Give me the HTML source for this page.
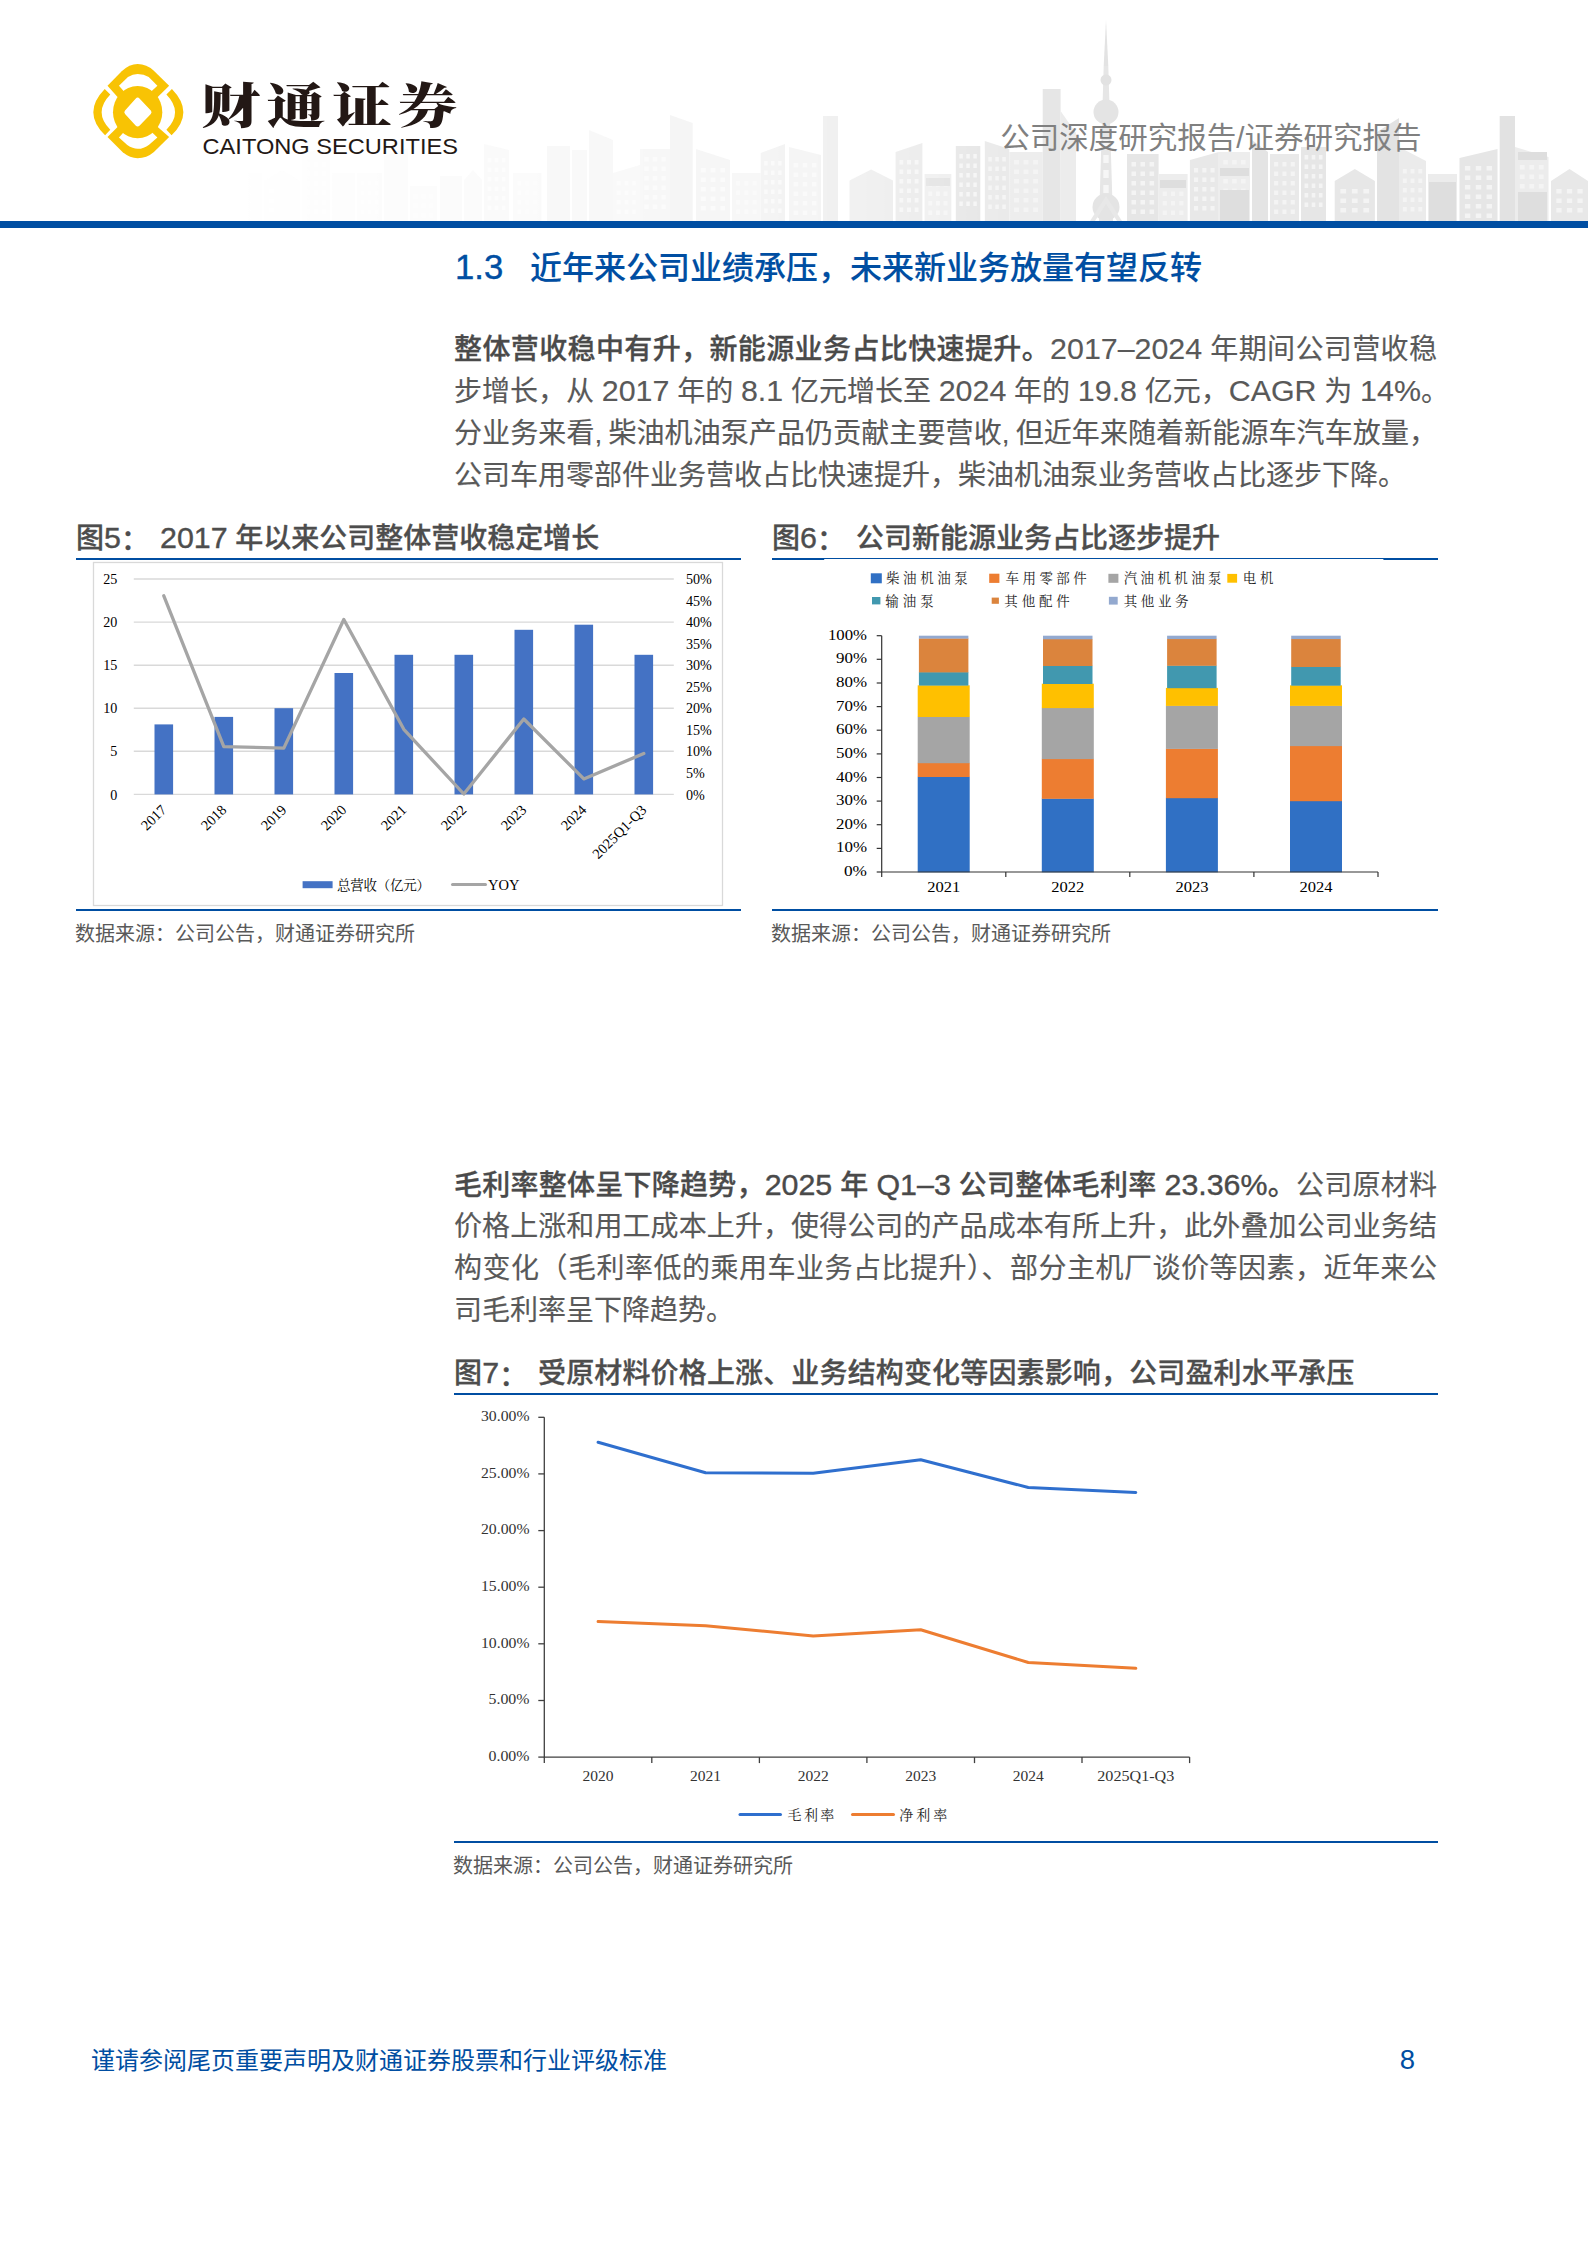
<!DOCTYPE html>
<html lang="zh-CN"><head><meta charset="utf-8"><title>财通证券 研究报告</title>
<style>
html,body{margin:0;padding:0;background:#fff;}
body{width:1588px;height:2245px;position:relative;overflow:hidden;font-family:"Liberation Sans","Noto Sans CJK SC",sans-serif;color:#595959;}
.abs{position:absolute;white-space:nowrap;}
.ln{position:absolute;left:454px;width:983px;height:42px;line-height:42px;font-size:28px;white-space:nowrap;text-align:justify;text-align-last:justify;color:#595959;-webkit-text-stroke:0.15px #595959;}
.ln.last{text-align:left;text-align-last:left;}
.la{font-size:1.085em;line-height:1px;}
.ft .la,.ln b .la{-webkit-text-stroke:0.4px currentColor;font-weight:400;}
.ttl{-webkit-text-stroke:0.12px currentColor;}
.ttl .la{-webkit-text-stroke:0.4px currentColor;font-weight:400;}
.ln b{font-weight:500;color:#4a4a4a;-webkit-text-stroke:0.3px #4a4a4a;}
.ft{position:absolute;height:40px;line-height:40px;font-size:28px;font-weight:500;-webkit-text-stroke:0.3px #4d4d4d;color:#4d4d4d;white-space:nowrap;}
.ft i{font-style:normal;display:inline-block;width:84px;}
.rule{position:absolute;height:2.1px;background:#004ea2;}
.src{position:absolute;font-size:20px;line-height:30px;height:30px;color:#595959;white-space:nowrap;}
svg{position:absolute;overflow:visible;}
svg text{font-family:"Liberation Serif","Noto Serif CJK SC",serif;}
</style></head>
<body>
<svg width="1588" height="2245" style="left:0;top:0" viewBox="0 0 1588 2245">
<defs><linearGradient id="fade" x1="210" x2="1020" y1="0" y2="0" gradientUnits="userSpaceOnUse"><stop offset="0" stop-color="#fff" stop-opacity="0"/><stop offset="0.24" stop-color="#fff" stop-opacity="0.13"/><stop offset="0.5" stop-color="#fff" stop-opacity="0.3"/><stop offset="0.75" stop-color="#fff" stop-opacity="0.5"/><stop offset="0.92" stop-color="#fff" stop-opacity="0.8"/><stop offset="1" stop-color="#fff" stop-opacity="1"/></linearGradient>
<mask id="mk" maskUnits="userSpaceOnUse" x="0" y="0" width="1588" height="230"><rect x="0" y="0" width="1588" height="230" fill="url(#fade)"/><rect x="1019.5" y="0" width="570" height="230" fill="#fff"/></mask></defs>
<g mask="url(#mk)">
<path d="M849.5 221.5V180.5L871.2 169.5L893.0 180.5V221.5Z" fill="#e7e7e7"/>
<path d="M895.6 221.5V152.0L922.4 143.0V221.5Z" fill="#e6e6e6"/>
<path d="M924.6 221.5V174.0L951.3 174.0V221.5Z" fill="#ececec"/>
<path d="M955.8 221.5V146.0L980.3 146.0V221.5Z" fill="#e4e4e4"/>
<path d="M984.8 221.5V141.0L1009.3 149.0V221.5Z" fill="#e9e9e9"/>
<path d="M1009.3 221.5V152.0L1042.7 152.0V221.5Z" fill="#ededed"/>
<path d="M1042.7 221.5V89.0L1060.6 89.0V221.5Z" fill="#e6e6e6"/>
<path d="M1060.6 221.5V111.0L1076.0 133.0V221.5Z" fill="#ececec"/>
<path d="M1127.0 221.5V154.0L1158.6 154.0V221.5Z" fill="#e6e6e6"/>
<path d="M1158.6 221.5V174.0L1187.6 174.0V221.5Z" fill="#ededed"/>
<path d="M1189.9 221.5V160.0L1218.8 152.0V221.5Z" fill="#e8e8e8"/>
<path d="M1218.8 221.5V152.0L1250.0 152.0V221.5Z" fill="#ededed"/>
<path d="M1252.0 221.5V140.0L1268.0 152.0V221.5Z" fill="#e4e4e4"/>
<path d="M1270.0 221.5V154.0L1299.0 154.0V221.5Z" fill="#e9e9e9"/>
<path d="M1301.0 221.5V147.0L1326.0 147.0V221.5Z" fill="#e6e6e6"/>
<path d="M1334.7 221.5V181.0L1354.8 169.0L1374.9 181.0V221.5Z" fill="#e7e7e7"/>
<path d="M1377.0 221.5V132.0L1399.0 118.0V221.5Z" fill="#e3e3e3"/>
<path d="M1399.0 221.5V147.0L1426.0 161.0V221.5Z" fill="#ebebeb"/>
<path d="M1428.0 221.5V174.0L1457.0 174.0V221.5Z" fill="#ececec"/>
<path d="M1459.5 221.5V158.0L1497.5 149.0V221.5Z" fill="#e6e6e6"/>
<path d="M1499.7 221.5V116.0L1515.0 116.0V221.5Z" fill="#e2e2e2"/>
<path d="M1515.0 221.5V147.0L1548.5 157.0V221.5Z" fill="#ececec"/>
<path d="M1551.0 221.5V181.0L1569.5 169.0L1588.0 181.0V221.5Z" fill="#e8e8e8"/>
<rect x="899.4" y="160.0" width="3.8" height="4.5" fill="#f4f4f4"/>
<rect x="907.1" y="160.0" width="3.8" height="4.5" fill="#f4f4f4"/>
<rect x="914.7" y="160.0" width="3.8" height="4.5" fill="#f4f4f4"/>
<rect x="899.4" y="169.5" width="3.8" height="4.5" fill="#f4f4f4"/>
<rect x="907.1" y="169.5" width="3.8" height="4.5" fill="#f4f4f4"/>
<rect x="914.7" y="169.5" width="3.8" height="4.5" fill="#f4f4f4"/>
<rect x="899.4" y="179.0" width="3.8" height="4.5" fill="#f4f4f4"/>
<rect x="907.1" y="179.0" width="3.8" height="4.5" fill="#f4f4f4"/>
<rect x="914.7" y="179.0" width="3.8" height="4.5" fill="#f4f4f4"/>
<rect x="899.4" y="188.5" width="3.8" height="4.5" fill="#f4f4f4"/>
<rect x="907.1" y="188.5" width="3.8" height="4.5" fill="#f4f4f4"/>
<rect x="914.7" y="188.5" width="3.8" height="4.5" fill="#f4f4f4"/>
<rect x="899.4" y="198.0" width="3.8" height="4.5" fill="#f4f4f4"/>
<rect x="907.1" y="198.0" width="3.8" height="4.5" fill="#f4f4f4"/>
<rect x="914.7" y="198.0" width="3.8" height="4.5" fill="#f4f4f4"/>
<rect x="899.4" y="207.5" width="3.8" height="4.5" fill="#f4f4f4"/>
<rect x="907.1" y="207.5" width="3.8" height="4.5" fill="#f4f4f4"/>
<rect x="914.7" y="207.5" width="3.8" height="4.5" fill="#f4f4f4"/>
<rect x="928.4" y="182.0" width="3.8" height="4.5" fill="#f4f4f4"/>
<rect x="936.0" y="182.0" width="3.8" height="4.5" fill="#f4f4f4"/>
<rect x="943.7" y="182.0" width="3.8" height="4.5" fill="#f4f4f4"/>
<rect x="928.4" y="191.5" width="3.8" height="4.5" fill="#f4f4f4"/>
<rect x="936.0" y="191.5" width="3.8" height="4.5" fill="#f4f4f4"/>
<rect x="943.7" y="191.5" width="3.8" height="4.5" fill="#f4f4f4"/>
<rect x="928.4" y="201.0" width="3.8" height="4.5" fill="#f4f4f4"/>
<rect x="936.0" y="201.0" width="3.8" height="4.5" fill="#f4f4f4"/>
<rect x="943.7" y="201.0" width="3.8" height="4.5" fill="#f4f4f4"/>
<rect x="928.4" y="210.5" width="3.8" height="4.5" fill="#f4f4f4"/>
<rect x="936.0" y="210.5" width="3.8" height="4.5" fill="#f4f4f4"/>
<rect x="943.7" y="210.5" width="3.8" height="4.5" fill="#f4f4f4"/>
<rect x="959.3" y="154.0" width="3.5" height="4.5" fill="#f4f4f4"/>
<rect x="966.3" y="154.0" width="3.5" height="4.5" fill="#f4f4f4"/>
<rect x="973.3" y="154.0" width="3.5" height="4.5" fill="#f4f4f4"/>
<rect x="959.3" y="163.5" width="3.5" height="4.5" fill="#f4f4f4"/>
<rect x="966.3" y="163.5" width="3.5" height="4.5" fill="#f4f4f4"/>
<rect x="973.3" y="163.5" width="3.5" height="4.5" fill="#f4f4f4"/>
<rect x="959.3" y="173.0" width="3.5" height="4.5" fill="#f4f4f4"/>
<rect x="966.3" y="173.0" width="3.5" height="4.5" fill="#f4f4f4"/>
<rect x="973.3" y="173.0" width="3.5" height="4.5" fill="#f4f4f4"/>
<rect x="959.3" y="182.5" width="3.5" height="4.5" fill="#f4f4f4"/>
<rect x="966.3" y="182.5" width="3.5" height="4.5" fill="#f4f4f4"/>
<rect x="973.3" y="182.5" width="3.5" height="4.5" fill="#f4f4f4"/>
<rect x="959.3" y="192.0" width="3.5" height="4.5" fill="#f4f4f4"/>
<rect x="966.3" y="192.0" width="3.5" height="4.5" fill="#f4f4f4"/>
<rect x="973.3" y="192.0" width="3.5" height="4.5" fill="#f4f4f4"/>
<rect x="959.3" y="201.5" width="3.5" height="4.5" fill="#f4f4f4"/>
<rect x="966.3" y="201.5" width="3.5" height="4.5" fill="#f4f4f4"/>
<rect x="973.3" y="201.5" width="3.5" height="4.5" fill="#f4f4f4"/>
<rect x="988.3" y="157.0" width="3.5" height="4.5" fill="#f4f4f4"/>
<rect x="995.3" y="157.0" width="3.5" height="4.5" fill="#f4f4f4"/>
<rect x="1002.3" y="157.0" width="3.5" height="4.5" fill="#f4f4f4"/>
<rect x="988.3" y="166.5" width="3.5" height="4.5" fill="#f4f4f4"/>
<rect x="995.3" y="166.5" width="3.5" height="4.5" fill="#f4f4f4"/>
<rect x="1002.3" y="166.5" width="3.5" height="4.5" fill="#f4f4f4"/>
<rect x="988.3" y="176.0" width="3.5" height="4.5" fill="#f4f4f4"/>
<rect x="995.3" y="176.0" width="3.5" height="4.5" fill="#f4f4f4"/>
<rect x="1002.3" y="176.0" width="3.5" height="4.5" fill="#f4f4f4"/>
<rect x="988.3" y="185.5" width="3.5" height="4.5" fill="#f4f4f4"/>
<rect x="995.3" y="185.5" width="3.5" height="4.5" fill="#f4f4f4"/>
<rect x="1002.3" y="185.5" width="3.5" height="4.5" fill="#f4f4f4"/>
<rect x="988.3" y="195.0" width="3.5" height="4.5" fill="#f4f4f4"/>
<rect x="995.3" y="195.0" width="3.5" height="4.5" fill="#f4f4f4"/>
<rect x="1002.3" y="195.0" width="3.5" height="4.5" fill="#f4f4f4"/>
<rect x="988.3" y="204.5" width="3.5" height="4.5" fill="#f4f4f4"/>
<rect x="995.3" y="204.5" width="3.5" height="4.5" fill="#f4f4f4"/>
<rect x="1002.3" y="204.5" width="3.5" height="4.5" fill="#f4f4f4"/>
<rect x="1014.1" y="160.0" width="4.8" height="4.5" fill="#f4f4f4"/>
<rect x="1023.6" y="160.0" width="4.8" height="4.5" fill="#f4f4f4"/>
<rect x="1033.2" y="160.0" width="4.8" height="4.5" fill="#f4f4f4"/>
<rect x="1014.1" y="169.5" width="4.8" height="4.5" fill="#f4f4f4"/>
<rect x="1023.6" y="169.5" width="4.8" height="4.5" fill="#f4f4f4"/>
<rect x="1033.2" y="169.5" width="4.8" height="4.5" fill="#f4f4f4"/>
<rect x="1014.1" y="179.0" width="4.8" height="4.5" fill="#f4f4f4"/>
<rect x="1023.6" y="179.0" width="4.8" height="4.5" fill="#f4f4f4"/>
<rect x="1033.2" y="179.0" width="4.8" height="4.5" fill="#f4f4f4"/>
<rect x="1014.1" y="188.5" width="4.8" height="4.5" fill="#f4f4f4"/>
<rect x="1023.6" y="188.5" width="4.8" height="4.5" fill="#f4f4f4"/>
<rect x="1033.2" y="188.5" width="4.8" height="4.5" fill="#f4f4f4"/>
<rect x="1014.1" y="198.0" width="4.8" height="4.5" fill="#f4f4f4"/>
<rect x="1023.6" y="198.0" width="4.8" height="4.5" fill="#f4f4f4"/>
<rect x="1033.2" y="198.0" width="4.8" height="4.5" fill="#f4f4f4"/>
<rect x="1014.1" y="207.5" width="4.8" height="4.5" fill="#f4f4f4"/>
<rect x="1023.6" y="207.5" width="4.8" height="4.5" fill="#f4f4f4"/>
<rect x="1033.2" y="207.5" width="4.8" height="4.5" fill="#f4f4f4"/>
<rect x="1131.5" y="162.0" width="4.5" height="4.5" fill="#f4f4f4"/>
<rect x="1140.5" y="162.0" width="4.5" height="4.5" fill="#f4f4f4"/>
<rect x="1149.6" y="162.0" width="4.5" height="4.5" fill="#f4f4f4"/>
<rect x="1131.5" y="171.5" width="4.5" height="4.5" fill="#f4f4f4"/>
<rect x="1140.5" y="171.5" width="4.5" height="4.5" fill="#f4f4f4"/>
<rect x="1149.6" y="171.5" width="4.5" height="4.5" fill="#f4f4f4"/>
<rect x="1131.5" y="181.0" width="4.5" height="4.5" fill="#f4f4f4"/>
<rect x="1140.5" y="181.0" width="4.5" height="4.5" fill="#f4f4f4"/>
<rect x="1149.6" y="181.0" width="4.5" height="4.5" fill="#f4f4f4"/>
<rect x="1131.5" y="190.5" width="4.5" height="4.5" fill="#f4f4f4"/>
<rect x="1140.5" y="190.5" width="4.5" height="4.5" fill="#f4f4f4"/>
<rect x="1149.6" y="190.5" width="4.5" height="4.5" fill="#f4f4f4"/>
<rect x="1131.5" y="200.0" width="4.5" height="4.5" fill="#f4f4f4"/>
<rect x="1140.5" y="200.0" width="4.5" height="4.5" fill="#f4f4f4"/>
<rect x="1149.6" y="200.0" width="4.5" height="4.5" fill="#f4f4f4"/>
<rect x="1131.5" y="209.5" width="4.5" height="4.5" fill="#f4f4f4"/>
<rect x="1140.5" y="209.5" width="4.5" height="4.5" fill="#f4f4f4"/>
<rect x="1149.6" y="209.5" width="4.5" height="4.5" fill="#f4f4f4"/>
<rect x="1162.7" y="182.0" width="4.1" height="4.5" fill="#f4f4f4"/>
<rect x="1171.0" y="182.0" width="4.1" height="4.5" fill="#f4f4f4"/>
<rect x="1179.3" y="182.0" width="4.1" height="4.5" fill="#f4f4f4"/>
<rect x="1162.7" y="191.5" width="4.1" height="4.5" fill="#f4f4f4"/>
<rect x="1171.0" y="191.5" width="4.1" height="4.5" fill="#f4f4f4"/>
<rect x="1179.3" y="191.5" width="4.1" height="4.5" fill="#f4f4f4"/>
<rect x="1162.7" y="201.0" width="4.1" height="4.5" fill="#f4f4f4"/>
<rect x="1171.0" y="201.0" width="4.1" height="4.5" fill="#f4f4f4"/>
<rect x="1179.3" y="201.0" width="4.1" height="4.5" fill="#f4f4f4"/>
<rect x="1162.7" y="210.5" width="4.1" height="4.5" fill="#f4f4f4"/>
<rect x="1171.0" y="210.5" width="4.1" height="4.5" fill="#f4f4f4"/>
<rect x="1179.3" y="210.5" width="4.1" height="4.5" fill="#f4f4f4"/>
<rect x="1194.0" y="168.0" width="4.1" height="4.5" fill="#f4f4f4"/>
<rect x="1202.3" y="168.0" width="4.1" height="4.5" fill="#f4f4f4"/>
<rect x="1210.5" y="168.0" width="4.1" height="4.5" fill="#f4f4f4"/>
<rect x="1194.0" y="177.5" width="4.1" height="4.5" fill="#f4f4f4"/>
<rect x="1202.3" y="177.5" width="4.1" height="4.5" fill="#f4f4f4"/>
<rect x="1210.5" y="177.5" width="4.1" height="4.5" fill="#f4f4f4"/>
<rect x="1194.0" y="187.0" width="4.1" height="4.5" fill="#f4f4f4"/>
<rect x="1202.3" y="187.0" width="4.1" height="4.5" fill="#f4f4f4"/>
<rect x="1210.5" y="187.0" width="4.1" height="4.5" fill="#f4f4f4"/>
<rect x="1194.0" y="196.5" width="4.1" height="4.5" fill="#f4f4f4"/>
<rect x="1202.3" y="196.5" width="4.1" height="4.5" fill="#f4f4f4"/>
<rect x="1210.5" y="196.5" width="4.1" height="4.5" fill="#f4f4f4"/>
<rect x="1194.0" y="206.0" width="4.1" height="4.5" fill="#f4f4f4"/>
<rect x="1202.3" y="206.0" width="4.1" height="4.5" fill="#f4f4f4"/>
<rect x="1210.5" y="206.0" width="4.1" height="4.5" fill="#f4f4f4"/>
<rect x="1223.3" y="160.0" width="4.5" height="4.5" fill="#f4f4f4"/>
<rect x="1232.2" y="160.0" width="4.5" height="4.5" fill="#f4f4f4"/>
<rect x="1241.1" y="160.0" width="4.5" height="4.5" fill="#f4f4f4"/>
<rect x="1223.3" y="169.5" width="4.5" height="4.5" fill="#f4f4f4"/>
<rect x="1232.2" y="169.5" width="4.5" height="4.5" fill="#f4f4f4"/>
<rect x="1241.1" y="169.5" width="4.5" height="4.5" fill="#f4f4f4"/>
<rect x="1223.3" y="179.0" width="4.5" height="4.5" fill="#f4f4f4"/>
<rect x="1232.2" y="179.0" width="4.5" height="4.5" fill="#f4f4f4"/>
<rect x="1241.1" y="179.0" width="4.5" height="4.5" fill="#f4f4f4"/>
<rect x="1223.3" y="188.5" width="4.5" height="4.5" fill="#f4f4f4"/>
<rect x="1232.2" y="188.5" width="4.5" height="4.5" fill="#f4f4f4"/>
<rect x="1241.1" y="188.5" width="4.5" height="4.5" fill="#f4f4f4"/>
<rect x="1223.3" y="198.0" width="4.5" height="4.5" fill="#f4f4f4"/>
<rect x="1232.2" y="198.0" width="4.5" height="4.5" fill="#f4f4f4"/>
<rect x="1241.1" y="198.0" width="4.5" height="4.5" fill="#f4f4f4"/>
<rect x="1223.3" y="207.5" width="4.5" height="4.5" fill="#f4f4f4"/>
<rect x="1232.2" y="207.5" width="4.5" height="4.5" fill="#f4f4f4"/>
<rect x="1241.1" y="207.5" width="4.5" height="4.5" fill="#f4f4f4"/>
<rect x="1274.1" y="162.0" width="4.1" height="4.5" fill="#f4f4f4"/>
<rect x="1282.4" y="162.0" width="4.1" height="4.5" fill="#f4f4f4"/>
<rect x="1290.7" y="162.0" width="4.1" height="4.5" fill="#f4f4f4"/>
<rect x="1274.1" y="171.5" width="4.1" height="4.5" fill="#f4f4f4"/>
<rect x="1282.4" y="171.5" width="4.1" height="4.5" fill="#f4f4f4"/>
<rect x="1290.7" y="171.5" width="4.1" height="4.5" fill="#f4f4f4"/>
<rect x="1274.1" y="181.0" width="4.1" height="4.5" fill="#f4f4f4"/>
<rect x="1282.4" y="181.0" width="4.1" height="4.5" fill="#f4f4f4"/>
<rect x="1290.7" y="181.0" width="4.1" height="4.5" fill="#f4f4f4"/>
<rect x="1274.1" y="190.5" width="4.1" height="4.5" fill="#f4f4f4"/>
<rect x="1282.4" y="190.5" width="4.1" height="4.5" fill="#f4f4f4"/>
<rect x="1290.7" y="190.5" width="4.1" height="4.5" fill="#f4f4f4"/>
<rect x="1274.1" y="200.0" width="4.1" height="4.5" fill="#f4f4f4"/>
<rect x="1282.4" y="200.0" width="4.1" height="4.5" fill="#f4f4f4"/>
<rect x="1290.7" y="200.0" width="4.1" height="4.5" fill="#f4f4f4"/>
<rect x="1274.1" y="209.5" width="4.1" height="4.5" fill="#f4f4f4"/>
<rect x="1282.4" y="209.5" width="4.1" height="4.5" fill="#f4f4f4"/>
<rect x="1290.7" y="209.5" width="4.1" height="4.5" fill="#f4f4f4"/>
<rect x="1304.6" y="155.0" width="3.6" height="4.5" fill="#f4f4f4"/>
<rect x="1311.7" y="155.0" width="3.6" height="4.5" fill="#f4f4f4"/>
<rect x="1318.9" y="155.0" width="3.6" height="4.5" fill="#f4f4f4"/>
<rect x="1304.6" y="164.5" width="3.6" height="4.5" fill="#f4f4f4"/>
<rect x="1311.7" y="164.5" width="3.6" height="4.5" fill="#f4f4f4"/>
<rect x="1318.9" y="164.5" width="3.6" height="4.5" fill="#f4f4f4"/>
<rect x="1304.6" y="174.0" width="3.6" height="4.5" fill="#f4f4f4"/>
<rect x="1311.7" y="174.0" width="3.6" height="4.5" fill="#f4f4f4"/>
<rect x="1318.9" y="174.0" width="3.6" height="4.5" fill="#f4f4f4"/>
<rect x="1304.6" y="183.5" width="3.6" height="4.5" fill="#f4f4f4"/>
<rect x="1311.7" y="183.5" width="3.6" height="4.5" fill="#f4f4f4"/>
<rect x="1318.9" y="183.5" width="3.6" height="4.5" fill="#f4f4f4"/>
<rect x="1304.6" y="193.0" width="3.6" height="4.5" fill="#f4f4f4"/>
<rect x="1311.7" y="193.0" width="3.6" height="4.5" fill="#f4f4f4"/>
<rect x="1318.9" y="193.0" width="3.6" height="4.5" fill="#f4f4f4"/>
<rect x="1304.6" y="202.5" width="3.6" height="4.5" fill="#f4f4f4"/>
<rect x="1311.7" y="202.5" width="3.6" height="4.5" fill="#f4f4f4"/>
<rect x="1318.9" y="202.5" width="3.6" height="4.5" fill="#f4f4f4"/>
<rect x="1340.4" y="189.0" width="5.7" height="4.5" fill="#f4f4f4"/>
<rect x="1351.9" y="189.0" width="5.7" height="4.5" fill="#f4f4f4"/>
<rect x="1363.4" y="189.0" width="5.7" height="4.5" fill="#f4f4f4"/>
<rect x="1340.4" y="198.5" width="5.7" height="4.5" fill="#f4f4f4"/>
<rect x="1351.9" y="198.5" width="5.7" height="4.5" fill="#f4f4f4"/>
<rect x="1363.4" y="198.5" width="5.7" height="4.5" fill="#f4f4f4"/>
<rect x="1340.4" y="208.0" width="5.7" height="4.5" fill="#f4f4f4"/>
<rect x="1351.9" y="208.0" width="5.7" height="4.5" fill="#f4f4f4"/>
<rect x="1363.4" y="208.0" width="5.7" height="4.5" fill="#f4f4f4"/>
<rect x="1402.9" y="169.0" width="3.9" height="4.5" fill="#f4f4f4"/>
<rect x="1410.6" y="169.0" width="3.9" height="4.5" fill="#f4f4f4"/>
<rect x="1418.3" y="169.0" width="3.9" height="4.5" fill="#f4f4f4"/>
<rect x="1402.9" y="178.5" width="3.9" height="4.5" fill="#f4f4f4"/>
<rect x="1410.6" y="178.5" width="3.9" height="4.5" fill="#f4f4f4"/>
<rect x="1418.3" y="178.5" width="3.9" height="4.5" fill="#f4f4f4"/>
<rect x="1402.9" y="188.0" width="3.9" height="4.5" fill="#f4f4f4"/>
<rect x="1410.6" y="188.0" width="3.9" height="4.5" fill="#f4f4f4"/>
<rect x="1418.3" y="188.0" width="3.9" height="4.5" fill="#f4f4f4"/>
<rect x="1402.9" y="197.5" width="3.9" height="4.5" fill="#f4f4f4"/>
<rect x="1410.6" y="197.5" width="3.9" height="4.5" fill="#f4f4f4"/>
<rect x="1418.3" y="197.5" width="3.9" height="4.5" fill="#f4f4f4"/>
<rect x="1402.9" y="207.0" width="3.9" height="4.5" fill="#f4f4f4"/>
<rect x="1410.6" y="207.0" width="3.9" height="4.5" fill="#f4f4f4"/>
<rect x="1418.3" y="207.0" width="3.9" height="4.5" fill="#f4f4f4"/>
<rect x="1432.1" y="182.0" width="4.1" height="4.5" fill="#f4f4f4"/>
<rect x="1440.4" y="182.0" width="4.1" height="4.5" fill="#f4f4f4"/>
<rect x="1448.7" y="182.0" width="4.1" height="4.5" fill="#f4f4f4"/>
<rect x="1432.1" y="191.5" width="4.1" height="4.5" fill="#f4f4f4"/>
<rect x="1440.4" y="191.5" width="4.1" height="4.5" fill="#f4f4f4"/>
<rect x="1448.7" y="191.5" width="4.1" height="4.5" fill="#f4f4f4"/>
<rect x="1432.1" y="201.0" width="4.1" height="4.5" fill="#f4f4f4"/>
<rect x="1440.4" y="201.0" width="4.1" height="4.5" fill="#f4f4f4"/>
<rect x="1448.7" y="201.0" width="4.1" height="4.5" fill="#f4f4f4"/>
<rect x="1432.1" y="210.5" width="4.1" height="4.5" fill="#f4f4f4"/>
<rect x="1440.4" y="210.5" width="4.1" height="4.5" fill="#f4f4f4"/>
<rect x="1448.7" y="210.5" width="4.1" height="4.5" fill="#f4f4f4"/>
<rect x="1464.9" y="166.0" width="5.4" height="4.5" fill="#f4f4f4"/>
<rect x="1475.8" y="166.0" width="5.4" height="4.5" fill="#f4f4f4"/>
<rect x="1486.6" y="166.0" width="5.4" height="4.5" fill="#f4f4f4"/>
<rect x="1464.9" y="175.5" width="5.4" height="4.5" fill="#f4f4f4"/>
<rect x="1475.8" y="175.5" width="5.4" height="4.5" fill="#f4f4f4"/>
<rect x="1486.6" y="175.5" width="5.4" height="4.5" fill="#f4f4f4"/>
<rect x="1464.9" y="185.0" width="5.4" height="4.5" fill="#f4f4f4"/>
<rect x="1475.8" y="185.0" width="5.4" height="4.5" fill="#f4f4f4"/>
<rect x="1486.6" y="185.0" width="5.4" height="4.5" fill="#f4f4f4"/>
<rect x="1464.9" y="194.5" width="5.4" height="4.5" fill="#f4f4f4"/>
<rect x="1475.8" y="194.5" width="5.4" height="4.5" fill="#f4f4f4"/>
<rect x="1486.6" y="194.5" width="5.4" height="4.5" fill="#f4f4f4"/>
<rect x="1464.9" y="204.0" width="5.4" height="4.5" fill="#f4f4f4"/>
<rect x="1475.8" y="204.0" width="5.4" height="4.5" fill="#f4f4f4"/>
<rect x="1486.6" y="204.0" width="5.4" height="4.5" fill="#f4f4f4"/>
<rect x="1464.9" y="213.5" width="5.4" height="4.5" fill="#f4f4f4"/>
<rect x="1475.8" y="213.5" width="5.4" height="4.5" fill="#f4f4f4"/>
<rect x="1486.6" y="213.5" width="5.4" height="4.5" fill="#f4f4f4"/>
<rect x="1519.8" y="165.0" width="4.8" height="4.5" fill="#f4f4f4"/>
<rect x="1529.4" y="165.0" width="4.8" height="4.5" fill="#f4f4f4"/>
<rect x="1538.9" y="165.0" width="4.8" height="4.5" fill="#f4f4f4"/>
<rect x="1519.8" y="174.5" width="4.8" height="4.5" fill="#f4f4f4"/>
<rect x="1529.4" y="174.5" width="4.8" height="4.5" fill="#f4f4f4"/>
<rect x="1538.9" y="174.5" width="4.8" height="4.5" fill="#f4f4f4"/>
<rect x="1519.8" y="184.0" width="4.8" height="4.5" fill="#f4f4f4"/>
<rect x="1529.4" y="184.0" width="4.8" height="4.5" fill="#f4f4f4"/>
<rect x="1538.9" y="184.0" width="4.8" height="4.5" fill="#f4f4f4"/>
<rect x="1519.8" y="193.5" width="4.8" height="4.5" fill="#f4f4f4"/>
<rect x="1529.4" y="193.5" width="4.8" height="4.5" fill="#f4f4f4"/>
<rect x="1538.9" y="193.5" width="4.8" height="4.5" fill="#f4f4f4"/>
<rect x="1519.8" y="203.0" width="4.8" height="4.5" fill="#f4f4f4"/>
<rect x="1529.4" y="203.0" width="4.8" height="4.5" fill="#f4f4f4"/>
<rect x="1538.9" y="203.0" width="4.8" height="4.5" fill="#f4f4f4"/>
<rect x="1519.8" y="212.5" width="4.8" height="4.5" fill="#f4f4f4"/>
<rect x="1529.4" y="212.5" width="4.8" height="4.5" fill="#f4f4f4"/>
<rect x="1538.9" y="212.5" width="4.8" height="4.5" fill="#f4f4f4"/>
<rect x="1556.3" y="189.0" width="5.3" height="4.5" fill="#f4f4f4"/>
<rect x="1566.9" y="189.0" width="5.3" height="4.5" fill="#f4f4f4"/>
<rect x="1577.4" y="189.0" width="5.3" height="4.5" fill="#f4f4f4"/>
<rect x="1556.3" y="198.5" width="5.3" height="4.5" fill="#f4f4f4"/>
<rect x="1566.9" y="198.5" width="5.3" height="4.5" fill="#f4f4f4"/>
<rect x="1577.4" y="198.5" width="5.3" height="4.5" fill="#f4f4f4"/>
<rect x="1556.3" y="208.0" width="5.3" height="4.5" fill="#f4f4f4"/>
<rect x="1566.9" y="208.0" width="5.3" height="4.5" fill="#f4f4f4"/>
<rect x="1577.4" y="208.0" width="5.3" height="4.5" fill="#f4f4f4"/>
<rect x="1220.0" y="168.0" width="29.0" height="8.0" fill="#dedede"/>
<rect x="1220.0" y="190.0" width="29.0" height="31.0" fill="#dedede"/>
<rect x="1429.0" y="182.0" width="27.0" height="39.0" fill="#dedede"/>
<rect x="1160.0" y="180.0" width="26.0" height="8.0" fill="#dedede"/>
<rect x="926.0" y="178.0" width="24.0" height="8.0" fill="#dedede"/>
<rect x="1518.0" y="152.0" width="29.0" height="8.0" fill="#dedede"/>
<rect x="1518.0" y="192.0" width="29.0" height="29.0" fill="#dedede"/>
<path d="M1106 20L1108.3 66H1103.7Z" fill="#e3e3e3"/>
<path d="M1103.7 66H1108.3L1113 221H1099Z" fill="#e6e6e6"/>
<circle cx="1106" cy="80" r="5.5" fill="#e2e2e2"/>
<circle cx="1106" cy="112" r="12.5" fill="#e4e4e4"/>
<circle cx="1106" cy="207" r="13.5" fill="#e4e4e4"/>
<path d="M1106 196L1090 221H1095L1106 204L1117 221H1122Z" fill="#e8e8e8"/>
<rect x="1103.3" y="140" width="5.4" height="8" fill="#f6f6f6"/>
<rect x="1103.3" y="155" width="5.4" height="8" fill="#f6f6f6"/>
<rect x="1103.3" y="170" width="5.4" height="8" fill="#f6f6f6"/>
<rect x="1103.3" y="185" width="5.4" height="8" fill="#f6f6f6"/>
<path d="M214.0 221.5V150.0L236.0 158.0V221.5Z" fill="#e8e8e8"/>
<path d="M238.0 221.5V173.0L262.0 173.0V221.5Z" fill="#ececec"/>
<path d="M264.0 221.5V181.0L282.0 170.0L300.0 181.0V221.5Z" fill="#e6e6e6"/>
<path d="M302.0 221.5V154.0L330.0 146.0V221.5Z" fill="#e8e8e8"/>
<path d="M332.0 221.5V173.0L355.0 173.0V221.5Z" fill="#ececec"/>
<path d="M357.0 221.5V173.0L382.0 173.0V221.5Z" fill="#e9e9e9"/>
<path d="M384.0 221.5V156.0L408.0 148.0V221.5Z" fill="#e6e6e6"/>
<path d="M410.0 221.5V186.0L437.0 186.0V221.5Z" fill="#ececec"/>
<path d="M440.0 221.5V176.0L462.0 176.0V221.5Z" fill="#e8e8e8"/>
<path d="M464.0 221.5V180.0L473.0 170.0L482.0 180.0V221.5Z" fill="#e9e9e9"/>
<path d="M484.0 221.5V144.0L509.0 150.0V221.5Z" fill="#e6e6e6"/>
<path d="M513.0 221.5V173.0L541.6 173.0V221.5Z" fill="#ececec"/>
<path d="M547.0 221.5V146.0L570.0 146.0V221.5Z" fill="#e4e4e4"/>
<path d="M572.0 221.5V150.0L587.0 150.0V221.5Z" fill="#e9e9e9"/>
<path d="M589.0 221.5V130.0L613.0 140.0V221.5Z" fill="#e6e6e6"/>
<path d="M613.0 221.5V173.0L640.0 165.0V221.5Z" fill="#ececec"/>
<path d="M640.0 221.5V149.0L670.0 149.0V221.5Z" fill="#e8e8e8"/>
<path d="M670.0 221.5V115.0L692.7 123.0V221.5Z" fill="#e4e4e4"/>
<path d="M696.0 221.5V149.0L730.0 160.0V221.5Z" fill="#e8e8e8"/>
<path d="M732.0 221.5V173.0L760.7 173.0V221.5Z" fill="#ececec"/>
<path d="M760.7 221.5V153.0L785.0 144.0V221.5Z" fill="#e6e6e6"/>
<path d="M789.0 221.5V147.0L821.0 155.0V221.5Z" fill="#eaeaea"/>
<path d="M823.0 221.5V116.0L838.0 116.0V221.5Z" fill="#e3e3e3"/>
<rect x="269.1" y="189.0" width="5.1" height="4.5" fill="#f4f4f4"/>
<rect x="279.4" y="189.0" width="5.1" height="4.5" fill="#f4f4f4"/>
<rect x="289.7" y="189.0" width="5.1" height="4.5" fill="#f4f4f4"/>
<rect x="269.1" y="198.5" width="5.1" height="4.5" fill="#f4f4f4"/>
<rect x="279.4" y="198.5" width="5.1" height="4.5" fill="#f4f4f4"/>
<rect x="289.7" y="198.5" width="5.1" height="4.5" fill="#f4f4f4"/>
<rect x="269.1" y="208.0" width="5.1" height="4.5" fill="#f4f4f4"/>
<rect x="279.4" y="208.0" width="5.1" height="4.5" fill="#f4f4f4"/>
<rect x="289.7" y="208.0" width="5.1" height="4.5" fill="#f4f4f4"/>
<rect x="306.0" y="162.0" width="4.0" height="4.5" fill="#f4f4f4"/>
<rect x="314.0" y="162.0" width="4.0" height="4.5" fill="#f4f4f4"/>
<rect x="322.0" y="162.0" width="4.0" height="4.5" fill="#f4f4f4"/>
<rect x="306.0" y="171.5" width="4.0" height="4.5" fill="#f4f4f4"/>
<rect x="314.0" y="171.5" width="4.0" height="4.5" fill="#f4f4f4"/>
<rect x="322.0" y="171.5" width="4.0" height="4.5" fill="#f4f4f4"/>
<rect x="306.0" y="181.0" width="4.0" height="4.5" fill="#f4f4f4"/>
<rect x="314.0" y="181.0" width="4.0" height="4.5" fill="#f4f4f4"/>
<rect x="322.0" y="181.0" width="4.0" height="4.5" fill="#f4f4f4"/>
<rect x="306.0" y="190.5" width="4.0" height="4.5" fill="#f4f4f4"/>
<rect x="314.0" y="190.5" width="4.0" height="4.5" fill="#f4f4f4"/>
<rect x="322.0" y="190.5" width="4.0" height="4.5" fill="#f4f4f4"/>
<rect x="306.0" y="200.0" width="4.0" height="4.5" fill="#f4f4f4"/>
<rect x="314.0" y="200.0" width="4.0" height="4.5" fill="#f4f4f4"/>
<rect x="322.0" y="200.0" width="4.0" height="4.5" fill="#f4f4f4"/>
<rect x="306.0" y="209.5" width="4.0" height="4.5" fill="#f4f4f4"/>
<rect x="314.0" y="209.5" width="4.0" height="4.5" fill="#f4f4f4"/>
<rect x="322.0" y="209.5" width="4.0" height="4.5" fill="#f4f4f4"/>
<rect x="360.6" y="181.0" width="3.6" height="4.5" fill="#f4f4f4"/>
<rect x="367.7" y="181.0" width="3.6" height="4.5" fill="#f4f4f4"/>
<rect x="374.9" y="181.0" width="3.6" height="4.5" fill="#f4f4f4"/>
<rect x="360.6" y="190.5" width="3.6" height="4.5" fill="#f4f4f4"/>
<rect x="367.7" y="190.5" width="3.6" height="4.5" fill="#f4f4f4"/>
<rect x="374.9" y="190.5" width="3.6" height="4.5" fill="#f4f4f4"/>
<rect x="360.6" y="200.0" width="3.6" height="4.5" fill="#f4f4f4"/>
<rect x="367.7" y="200.0" width="3.6" height="4.5" fill="#f4f4f4"/>
<rect x="374.9" y="200.0" width="3.6" height="4.5" fill="#f4f4f4"/>
<rect x="360.6" y="209.5" width="3.6" height="4.5" fill="#f4f4f4"/>
<rect x="367.7" y="209.5" width="3.6" height="4.5" fill="#f4f4f4"/>
<rect x="374.9" y="209.5" width="3.6" height="4.5" fill="#f4f4f4"/>
<rect x="413.9" y="194.0" width="3.9" height="4.5" fill="#f4f4f4"/>
<rect x="421.6" y="194.0" width="3.9" height="4.5" fill="#f4f4f4"/>
<rect x="429.3" y="194.0" width="3.9" height="4.5" fill="#f4f4f4"/>
<rect x="413.9" y="203.5" width="3.9" height="4.5" fill="#f4f4f4"/>
<rect x="421.6" y="203.5" width="3.9" height="4.5" fill="#f4f4f4"/>
<rect x="429.3" y="203.5" width="3.9" height="4.5" fill="#f4f4f4"/>
<rect x="413.9" y="213.0" width="3.9" height="4.5" fill="#f4f4f4"/>
<rect x="421.6" y="213.0" width="3.9" height="4.5" fill="#f4f4f4"/>
<rect x="429.3" y="213.0" width="3.9" height="4.5" fill="#f4f4f4"/>
<rect x="487.6" y="158.0" width="3.6" height="4.5" fill="#f4f4f4"/>
<rect x="494.7" y="158.0" width="3.6" height="4.5" fill="#f4f4f4"/>
<rect x="501.9" y="158.0" width="3.6" height="4.5" fill="#f4f4f4"/>
<rect x="487.6" y="167.5" width="3.6" height="4.5" fill="#f4f4f4"/>
<rect x="494.7" y="167.5" width="3.6" height="4.5" fill="#f4f4f4"/>
<rect x="501.9" y="167.5" width="3.6" height="4.5" fill="#f4f4f4"/>
<rect x="487.6" y="177.0" width="3.6" height="4.5" fill="#f4f4f4"/>
<rect x="494.7" y="177.0" width="3.6" height="4.5" fill="#f4f4f4"/>
<rect x="501.9" y="177.0" width="3.6" height="4.5" fill="#f4f4f4"/>
<rect x="487.6" y="186.5" width="3.6" height="4.5" fill="#f4f4f4"/>
<rect x="494.7" y="186.5" width="3.6" height="4.5" fill="#f4f4f4"/>
<rect x="501.9" y="186.5" width="3.6" height="4.5" fill="#f4f4f4"/>
<rect x="487.6" y="196.0" width="3.6" height="4.5" fill="#f4f4f4"/>
<rect x="494.7" y="196.0" width="3.6" height="4.5" fill="#f4f4f4"/>
<rect x="501.9" y="196.0" width="3.6" height="4.5" fill="#f4f4f4"/>
<rect x="487.6" y="205.5" width="3.6" height="4.5" fill="#f4f4f4"/>
<rect x="494.7" y="205.5" width="3.6" height="4.5" fill="#f4f4f4"/>
<rect x="501.9" y="205.5" width="3.6" height="4.5" fill="#f4f4f4"/>
<rect x="517.1" y="181.0" width="4.1" height="4.5" fill="#f4f4f4"/>
<rect x="525.3" y="181.0" width="4.1" height="4.5" fill="#f4f4f4"/>
<rect x="533.4" y="181.0" width="4.1" height="4.5" fill="#f4f4f4"/>
<rect x="517.1" y="190.5" width="4.1" height="4.5" fill="#f4f4f4"/>
<rect x="525.3" y="190.5" width="4.1" height="4.5" fill="#f4f4f4"/>
<rect x="533.4" y="190.5" width="4.1" height="4.5" fill="#f4f4f4"/>
<rect x="517.1" y="200.0" width="4.1" height="4.5" fill="#f4f4f4"/>
<rect x="525.3" y="200.0" width="4.1" height="4.5" fill="#f4f4f4"/>
<rect x="533.4" y="200.0" width="4.1" height="4.5" fill="#f4f4f4"/>
<rect x="517.1" y="209.5" width="4.1" height="4.5" fill="#f4f4f4"/>
<rect x="525.3" y="209.5" width="4.1" height="4.5" fill="#f4f4f4"/>
<rect x="533.4" y="209.5" width="4.1" height="4.5" fill="#f4f4f4"/>
<rect x="616.9" y="181.0" width="3.9" height="4.5" fill="#f4f4f4"/>
<rect x="624.6" y="181.0" width="3.9" height="4.5" fill="#f4f4f4"/>
<rect x="632.3" y="181.0" width="3.9" height="4.5" fill="#f4f4f4"/>
<rect x="616.9" y="190.5" width="3.9" height="4.5" fill="#f4f4f4"/>
<rect x="624.6" y="190.5" width="3.9" height="4.5" fill="#f4f4f4"/>
<rect x="632.3" y="190.5" width="3.9" height="4.5" fill="#f4f4f4"/>
<rect x="616.9" y="200.0" width="3.9" height="4.5" fill="#f4f4f4"/>
<rect x="624.6" y="200.0" width="3.9" height="4.5" fill="#f4f4f4"/>
<rect x="632.3" y="200.0" width="3.9" height="4.5" fill="#f4f4f4"/>
<rect x="616.9" y="209.5" width="3.9" height="4.5" fill="#f4f4f4"/>
<rect x="624.6" y="209.5" width="3.9" height="4.5" fill="#f4f4f4"/>
<rect x="632.3" y="209.5" width="3.9" height="4.5" fill="#f4f4f4"/>
<rect x="644.3" y="157.0" width="4.3" height="4.5" fill="#f4f4f4"/>
<rect x="652.9" y="157.0" width="4.3" height="4.5" fill="#f4f4f4"/>
<rect x="661.4" y="157.0" width="4.3" height="4.5" fill="#f4f4f4"/>
<rect x="644.3" y="166.5" width="4.3" height="4.5" fill="#f4f4f4"/>
<rect x="652.9" y="166.5" width="4.3" height="4.5" fill="#f4f4f4"/>
<rect x="661.4" y="166.5" width="4.3" height="4.5" fill="#f4f4f4"/>
<rect x="644.3" y="176.0" width="4.3" height="4.5" fill="#f4f4f4"/>
<rect x="652.9" y="176.0" width="4.3" height="4.5" fill="#f4f4f4"/>
<rect x="661.4" y="176.0" width="4.3" height="4.5" fill="#f4f4f4"/>
<rect x="644.3" y="185.5" width="4.3" height="4.5" fill="#f4f4f4"/>
<rect x="652.9" y="185.5" width="4.3" height="4.5" fill="#f4f4f4"/>
<rect x="661.4" y="185.5" width="4.3" height="4.5" fill="#f4f4f4"/>
<rect x="644.3" y="195.0" width="4.3" height="4.5" fill="#f4f4f4"/>
<rect x="652.9" y="195.0" width="4.3" height="4.5" fill="#f4f4f4"/>
<rect x="661.4" y="195.0" width="4.3" height="4.5" fill="#f4f4f4"/>
<rect x="644.3" y="204.5" width="4.3" height="4.5" fill="#f4f4f4"/>
<rect x="652.9" y="204.5" width="4.3" height="4.5" fill="#f4f4f4"/>
<rect x="661.4" y="204.5" width="4.3" height="4.5" fill="#f4f4f4"/>
<rect x="700.9" y="168.0" width="4.9" height="4.5" fill="#f4f4f4"/>
<rect x="710.6" y="168.0" width="4.9" height="4.5" fill="#f4f4f4"/>
<rect x="720.3" y="168.0" width="4.9" height="4.5" fill="#f4f4f4"/>
<rect x="700.9" y="177.5" width="4.9" height="4.5" fill="#f4f4f4"/>
<rect x="710.6" y="177.5" width="4.9" height="4.5" fill="#f4f4f4"/>
<rect x="720.3" y="177.5" width="4.9" height="4.5" fill="#f4f4f4"/>
<rect x="700.9" y="187.0" width="4.9" height="4.5" fill="#f4f4f4"/>
<rect x="710.6" y="187.0" width="4.9" height="4.5" fill="#f4f4f4"/>
<rect x="720.3" y="187.0" width="4.9" height="4.5" fill="#f4f4f4"/>
<rect x="700.9" y="196.5" width="4.9" height="4.5" fill="#f4f4f4"/>
<rect x="710.6" y="196.5" width="4.9" height="4.5" fill="#f4f4f4"/>
<rect x="720.3" y="196.5" width="4.9" height="4.5" fill="#f4f4f4"/>
<rect x="700.9" y="206.0" width="4.9" height="4.5" fill="#f4f4f4"/>
<rect x="710.6" y="206.0" width="4.9" height="4.5" fill="#f4f4f4"/>
<rect x="720.3" y="206.0" width="4.9" height="4.5" fill="#f4f4f4"/>
<rect x="736.1" y="181.0" width="4.1" height="4.5" fill="#f4f4f4"/>
<rect x="744.3" y="181.0" width="4.1" height="4.5" fill="#f4f4f4"/>
<rect x="752.5" y="181.0" width="4.1" height="4.5" fill="#f4f4f4"/>
<rect x="736.1" y="190.5" width="4.1" height="4.5" fill="#f4f4f4"/>
<rect x="744.3" y="190.5" width="4.1" height="4.5" fill="#f4f4f4"/>
<rect x="752.5" y="190.5" width="4.1" height="4.5" fill="#f4f4f4"/>
<rect x="736.1" y="200.0" width="4.1" height="4.5" fill="#f4f4f4"/>
<rect x="744.3" y="200.0" width="4.1" height="4.5" fill="#f4f4f4"/>
<rect x="752.5" y="200.0" width="4.1" height="4.5" fill="#f4f4f4"/>
<rect x="736.1" y="209.5" width="4.1" height="4.5" fill="#f4f4f4"/>
<rect x="744.3" y="209.5" width="4.1" height="4.5" fill="#f4f4f4"/>
<rect x="752.5" y="209.5" width="4.1" height="4.5" fill="#f4f4f4"/>
<rect x="764.2" y="161.0" width="3.5" height="4.5" fill="#f4f4f4"/>
<rect x="771.1" y="161.0" width="3.5" height="4.5" fill="#f4f4f4"/>
<rect x="778.1" y="161.0" width="3.5" height="4.5" fill="#f4f4f4"/>
<rect x="764.2" y="170.5" width="3.5" height="4.5" fill="#f4f4f4"/>
<rect x="771.1" y="170.5" width="3.5" height="4.5" fill="#f4f4f4"/>
<rect x="778.1" y="170.5" width="3.5" height="4.5" fill="#f4f4f4"/>
<rect x="764.2" y="180.0" width="3.5" height="4.5" fill="#f4f4f4"/>
<rect x="771.1" y="180.0" width="3.5" height="4.5" fill="#f4f4f4"/>
<rect x="778.1" y="180.0" width="3.5" height="4.5" fill="#f4f4f4"/>
<rect x="764.2" y="189.5" width="3.5" height="4.5" fill="#f4f4f4"/>
<rect x="771.1" y="189.5" width="3.5" height="4.5" fill="#f4f4f4"/>
<rect x="778.1" y="189.5" width="3.5" height="4.5" fill="#f4f4f4"/>
<rect x="764.2" y="199.0" width="3.5" height="4.5" fill="#f4f4f4"/>
<rect x="771.1" y="199.0" width="3.5" height="4.5" fill="#f4f4f4"/>
<rect x="778.1" y="199.0" width="3.5" height="4.5" fill="#f4f4f4"/>
<rect x="764.2" y="208.5" width="3.5" height="4.5" fill="#f4f4f4"/>
<rect x="771.1" y="208.5" width="3.5" height="4.5" fill="#f4f4f4"/>
<rect x="778.1" y="208.5" width="3.5" height="4.5" fill="#f4f4f4"/>
<rect x="793.6" y="163.0" width="4.6" height="4.5" fill="#f4f4f4"/>
<rect x="802.7" y="163.0" width="4.6" height="4.5" fill="#f4f4f4"/>
<rect x="811.9" y="163.0" width="4.6" height="4.5" fill="#f4f4f4"/>
<rect x="793.6" y="172.5" width="4.6" height="4.5" fill="#f4f4f4"/>
<rect x="802.7" y="172.5" width="4.6" height="4.5" fill="#f4f4f4"/>
<rect x="811.9" y="172.5" width="4.6" height="4.5" fill="#f4f4f4"/>
<rect x="793.6" y="182.0" width="4.6" height="4.5" fill="#f4f4f4"/>
<rect x="802.7" y="182.0" width="4.6" height="4.5" fill="#f4f4f4"/>
<rect x="811.9" y="182.0" width="4.6" height="4.5" fill="#f4f4f4"/>
<rect x="793.6" y="191.5" width="4.6" height="4.5" fill="#f4f4f4"/>
<rect x="802.7" y="191.5" width="4.6" height="4.5" fill="#f4f4f4"/>
<rect x="811.9" y="191.5" width="4.6" height="4.5" fill="#f4f4f4"/>
<rect x="793.6" y="201.0" width="4.6" height="4.5" fill="#f4f4f4"/>
<rect x="802.7" y="201.0" width="4.6" height="4.5" fill="#f4f4f4"/>
<rect x="811.9" y="201.0" width="4.6" height="4.5" fill="#f4f4f4"/>
<rect x="793.6" y="210.5" width="4.6" height="4.5" fill="#f4f4f4"/>
<rect x="802.7" y="210.5" width="4.6" height="4.5" fill="#f4f4f4"/>
<rect x="811.9" y="210.5" width="4.6" height="4.5" fill="#f4f4f4"/>
</g></svg>
<svg width="110" height="110" style="left:85px;top:55px" viewBox="0 0 1588 1588"><g fill="#f8c304"><path d="M325 445L530 235Q640 130 760 130Q890 130 990 225L1215 445L1050 605L760 825L470 605Z"/><path d="M325 1185L545 1405Q650 1490 760 1490Q890 1490 995 1400L1215 1185L1050 1040L760 825L470 1040Z"/></g><g fill="#fff"><path d="M490 445L620 318Q690 275 760 275Q850 275 920 318L1045 445L960 525L760 700L560 525Z"/><path d="M490 1190L610 1300Q690 1355 760 1355Q850 1355 925 1295L1045 1190L970 1120L760 950L555 1120Z"/></g><g fill="#f8c304"><ellipse cx="760" cy="825" rx="356" ry="376"/><path d="M285 490Q120 660 120 825Q120 990 290 1160L365 1080Q240 950 240 825Q240 700 365 570Z"/><path d="M1255 490Q1420 660 1420 825Q1420 990 1250 1160L1175 1080Q1300 950 1300 825Q1300 700 1175 570Z"/></g><path d="M760 615Q775 615 790 632L950 800Q972 825 950 850L790 1018Q760 1048 730 1018L578 850Q556 825 578 800L730 632Q745 615 760 615Z" fill="#fff"/></svg>
<div class="abs" style="left:200.5px;top:71px;height:64px;line-height:64px;font-size:47.5px;font-weight:900;color:#231815;font-family:'Noto Serif CJK SC',serif;letter-spacing:5px;transform-origin:0 50%;transform:scaleX(1.25);">财通证券</div>
<svg width="1588" height="2245" style="left:0;top:0" viewBox="0 0 1588 2245"><text x="202.5" y="154.2" font-size="22.2" fill="#231815" textLength="255.5" lengthAdjust="spacingAndGlyphs" style="font-family:'Liberation Sans',sans-serif">CAITONG SECURITIES</text></svg>
<div class="rule" style="left:0;top:221px;width:1588px;height:7px;"></div>
<div class="abs" style="left:1000.2px;top:117.5px;height:40px;line-height:40px;font-size:29.5px;color:#808080;font-weight:400;">公司深度研究报告/证券研究报告</div>
<div class="abs ttl" style="left:455px;top:247.3px;height:42px;line-height:42px;font-size:32px;color:#004ea2;font-weight:500;"><span style="display:inline-block;width:75px;"><span class="la">1.3</span></span>近年来公司业绩承压，未来新业务放量有望反转</div>
<div class="ln" style="top:328.9px;"><b>整体营收稳中有升，新能源业务占比快速提升。</b><span class="la">2017–2024</span> 年期间公司营收稳</div>
<div class="ln" style="top:371.0px;">步增长，从 <span class="la">2017</span> 年的 <span class="la">8.1</span> 亿元增长至 <span class="la">2024</span> 年的 <span class="la">19.8</span> 亿元，<span class="la">CAGR</span> 为 <span class="la">14%</span>。</div>
<div class="ln" style="top:413.3px;">分业务来看<span style="margin-right:6px">,</span>柴油机油泵产品仍贡献主要营收<span style="margin-right:6px">,</span>但近年来随着新能源车汽车放量，</div>
<div class="ln last" style="top:454.8px;">公司车用零部件业务营收占比快速提升，柴油机油泵业务营收占比逐步下降。</div>
<div class="ln" style="top:1164.6px;"><b>毛利率整体呈下降趋势，<span class="la">2025</span> 年 <span class="la">Q1–3</span> 公司整体毛利率 <span class="la">23.36%</span>。</b>公司原材料</div>
<div class="ln" style="top:1206.3px;">价格上涨和用工成本上升，使得公司的产品成本有所上升，此外叠加公司业务结</div>
<div class="ln" style="top:1248.1px;">构变化（毛利率低的乘用车业务占比提升）、部分主机厂谈价等因素，近年来公</div>
<div class="ln last" style="top:1289.9px;">司毛利率呈下降趋势。</div>
<div class="ft" style="left:76px;top:518.5px;"><i>图<span class="la">5</span><span style="position:relative;top:2.5px">：</span></i><span class="la">2017</span> 年以来公司整体营收稳定增长</div>
<div class="ft" style="left:772px;top:518.5px;"><i>图<span class="la">6</span><span style="position:relative;top:2.5px">：</span></i>公司新能源业务占比逐步提升</div>
<div class="ft" style="left:454px;top:1354.1px;letter-spacing:0.15px;"><i>图<span class="la">7</span><span style="position:relative;top:2.5px">：</span></i>受原材料价格上涨、业务结构变化等因素影响，公司盈利水平承压</div>
<div class="rule" style="left:76px;top:558.05px;width:665px;"></div>
<div class="rule" style="left:772px;top:558.05px;width:666px;"></div>
<div class="rule" style="left:76px;top:909.25px;width:665px;"></div>
<div class="rule" style="left:772px;top:909.25px;width:666px;"></div>
<div class="rule" style="left:454px;top:1392.8px;width:984px;"></div>
<div class="rule" style="left:454px;top:1840.65px;width:984px;"></div>
<div class="src" style="left:75px;top:919.3px;">数据来源：公司公告，财通证券研究所</div>
<div class="src" style="left:771px;top:919.3px;">数据来源：公司公告，财通证券研究所</div>
<div class="src" style="left:453px;top:1851.3px;">数据来源：公司公告，财通证券研究所</div>
<svg width="1588" height="2245" style="left:0;top:0" viewBox="0 0 1588 2245">
<rect x="93.5" y="562.5" width="629" height="343" fill="#fff" stroke="#d9d9d9" stroke-width="1.3"/>
<line x1="133.8" x2="673.8" y1="794.4" y2="794.4" stroke="#d9d9d9" stroke-width="1.4"/>
<text x="117.3" y="799.5" font-size="14.1" text-anchor="end" fill="#000">0</text>
<line x1="133.8" x2="673.8" y1="751.3" y2="751.3" stroke="#d9d9d9" stroke-width="1.4"/>
<text x="117.3" y="756.4" font-size="14.1" text-anchor="end" fill="#000">5</text>
<line x1="133.8" x2="673.8" y1="708.2" y2="708.2" stroke="#d9d9d9" stroke-width="1.4"/>
<text x="117.3" y="713.3" font-size="14.1" text-anchor="end" fill="#000">10</text>
<line x1="133.8" x2="673.8" y1="665.2" y2="665.2" stroke="#d9d9d9" stroke-width="1.4"/>
<text x="117.3" y="670.3" font-size="14.1" text-anchor="end" fill="#000">15</text>
<line x1="133.8" x2="673.8" y1="622.1" y2="622.1" stroke="#d9d9d9" stroke-width="1.4"/>
<text x="117.3" y="627.2" font-size="14.1" text-anchor="end" fill="#000">20</text>
<line x1="133.8" x2="673.8" y1="579.0" y2="579.0" stroke="#d9d9d9" stroke-width="1.4"/>
<text x="117.3" y="584.1" font-size="14.1" text-anchor="end" fill="#000">25</text>
<text x="686" y="799.5" font-size="14.1" fill="#000">0%</text>
<text x="686" y="778.0" font-size="14.1" fill="#000">5%</text>
<text x="686" y="756.4" font-size="14.1" fill="#000">10%</text>
<text x="686" y="734.9" font-size="14.1" fill="#000">15%</text>
<text x="686" y="713.3" font-size="14.1" fill="#000">20%</text>
<text x="686" y="691.8" font-size="14.1" fill="#000">25%</text>
<text x="686" y="670.3" font-size="14.1" fill="#000">30%</text>
<text x="686" y="648.7" font-size="14.1" fill="#000">35%</text>
<text x="686" y="627.2" font-size="14.1" fill="#000">40%</text>
<text x="686" y="605.6" font-size="14.1" fill="#000">45%</text>
<text x="686" y="584.1" font-size="14.1" fill="#000">50%</text>
<rect x="154.5" y="724.4" width="18.6" height="70.0" fill="#4472c4"/>
<rect x="214.5" y="716.9" width="18.6" height="77.5" fill="#4472c4"/>
<rect x="274.5" y="708.2" width="18.6" height="86.2" fill="#4472c4"/>
<rect x="334.5" y="673.0" width="18.6" height="121.4" fill="#4472c4"/>
<rect x="394.5" y="654.8" width="18.6" height="139.6" fill="#4472c4"/>
<rect x="454.5" y="654.8" width="18.6" height="139.6" fill="#4472c4"/>
<rect x="514.5" y="629.8" width="18.6" height="164.6" fill="#4472c4"/>
<rect x="574.5" y="624.7" width="18.6" height="169.7" fill="#4472c4"/>
<rect x="634.5" y="654.8" width="18.6" height="139.6" fill="#4472c4"/>
<polyline points="163.8,595.8 223.8,746.6 283.8,748.1 343.8,619.5 403.8,729.3 463.8,794.0 523.8,719.0 583.8,778.9 643.8,753.5" fill="none" stroke="#a5a5a5" stroke-width="3.3" stroke-linejoin="round" stroke-linecap="round"/>
<text transform="translate(167.3,810.8) rotate(-45)" font-size="14.5" text-anchor="end" fill="#000">2017</text>
<text transform="translate(227.3,810.8) rotate(-45)" font-size="14.5" text-anchor="end" fill="#000">2018</text>
<text transform="translate(287.3,810.8) rotate(-45)" font-size="14.5" text-anchor="end" fill="#000">2019</text>
<text transform="translate(347.3,810.8) rotate(-45)" font-size="14.5" text-anchor="end" fill="#000">2020</text>
<text transform="translate(407.3,810.8) rotate(-45)" font-size="14.5" text-anchor="end" fill="#000">2021</text>
<text transform="translate(467.3,810.8) rotate(-45)" font-size="14.5" text-anchor="end" fill="#000">2022</text>
<text transform="translate(527.3,810.8) rotate(-45)" font-size="14.5" text-anchor="end" fill="#000">2023</text>
<text transform="translate(587.3,810.8) rotate(-45)" font-size="14.5" text-anchor="end" fill="#000">2024</text>
<text transform="translate(647.3,810.8) rotate(-45)" font-size="14.5" text-anchor="end" fill="#000">2025Q1-Q3</text>
<rect x="302.6" y="881.2" width="30" height="7" fill="#4472c4"/>
<text x="337" y="889.5" font-size="13.5" fill="#000" textLength="93" lengthAdjust="spacing">总营收（亿元）</text>
<line x1="452.5" x2="485.5" y1="884.5" y2="884.5" stroke="#a5a5a5" stroke-width="3" stroke-linecap="round"/>
<text x="488" y="889.5" font-size="14.5" fill="#000">YOY</text>
</svg>
<svg width="1588" height="2245" style="left:0;top:0" viewBox="0 0 1588 2245">
<rect x="824.2" y="559" width="559.2" height="346" fill="#fff"/>
<rect x="917.7" y="776.8" width="52.0" height="95.5" fill="#3070c4"/>
<rect x="917.7" y="762.8" width="52.0" height="14.2" fill="#ed7d31"/>
<rect x="917.7" y="716.8" width="52.0" height="46.4" fill="#a5a5a5"/>
<rect x="917.7" y="685.3" width="52.0" height="31.7" fill="#ffc000"/>
<rect x="918.9" y="672.1" width="49.5" height="13.5" fill="#4198af"/>
<rect x="918.9" y="638.3" width="49.5" height="34.1" fill="#db843d"/>
<rect x="918.9" y="635.7" width="49.5" height="2.9" fill="#93a9cf"/>
<text x="943.7" y="892.3" font-size="14.5" text-anchor="middle" fill="#000" textLength="33" lengthAdjust="spacingAndGlyphs">2021</text>
<rect x="1041.8" y="798.5" width="52.0" height="73.8" fill="#3070c4"/>
<rect x="1041.8" y="758.8" width="52.0" height="40.0" fill="#ed7d31"/>
<rect x="1041.8" y="707.8" width="52.0" height="51.3" fill="#a5a5a5"/>
<rect x="1041.8" y="683.7" width="52.0" height="24.4" fill="#ffc000"/>
<rect x="1043.0" y="665.7" width="49.5" height="18.3" fill="#4198af"/>
<rect x="1043.0" y="639.0" width="49.5" height="27.0" fill="#db843d"/>
<rect x="1043.0" y="635.7" width="49.5" height="3.6" fill="#93a9cf"/>
<text x="1067.8" y="892.3" font-size="14.5" text-anchor="middle" fill="#000" textLength="33" lengthAdjust="spacingAndGlyphs">2022</text>
<rect x="1165.9" y="797.8" width="52.0" height="74.5" fill="#3070c4"/>
<rect x="1165.9" y="748.7" width="52.0" height="49.5" fill="#ed7d31"/>
<rect x="1165.9" y="705.6" width="52.0" height="43.3" fill="#a5a5a5"/>
<rect x="1165.9" y="687.9" width="52.0" height="18.0" fill="#ffc000"/>
<rect x="1167.1" y="665.5" width="49.5" height="22.7" fill="#4198af"/>
<rect x="1167.1" y="638.8" width="49.5" height="27.0" fill="#db843d"/>
<rect x="1167.1" y="635.7" width="49.5" height="3.4" fill="#93a9cf"/>
<text x="1191.9" y="892.3" font-size="14.5" text-anchor="middle" fill="#000" textLength="33" lengthAdjust="spacingAndGlyphs">2023</text>
<rect x="1290.0" y="800.9" width="52.0" height="71.4" fill="#3070c4"/>
<rect x="1290.0" y="745.8" width="52.0" height="55.4" fill="#ed7d31"/>
<rect x="1290.0" y="705.6" width="52.0" height="40.5" fill="#a5a5a5"/>
<rect x="1290.0" y="685.3" width="52.0" height="20.6" fill="#ffc000"/>
<rect x="1291.2" y="666.7" width="49.5" height="19.0" fill="#4198af"/>
<rect x="1291.2" y="638.8" width="49.5" height="28.2" fill="#db843d"/>
<rect x="1291.2" y="635.7" width="49.5" height="3.4" fill="#93a9cf"/>
<text x="1316.0" y="892.3" font-size="14.5" text-anchor="middle" fill="#000" textLength="33" lengthAdjust="spacingAndGlyphs">2024</text>
<path d="M881.7 635.7V872.0H1378.0" fill="none" stroke="#333" stroke-width="1.2"/>
<line x1="876.7" x2="881.7" y1="872.0" y2="872.0" stroke="#333" stroke-width="1.2"/>
<text x="867" y="876.0" font-size="14" text-anchor="end" fill="#000" textLength="23" lengthAdjust="spacingAndGlyphs">0%</text>
<line x1="876.7" x2="881.7" y1="848.4" y2="848.4" stroke="#333" stroke-width="1.2"/>
<text x="867" y="852.4" font-size="14" text-anchor="end" fill="#000" textLength="31" lengthAdjust="spacingAndGlyphs">10%</text>
<line x1="876.7" x2="881.7" y1="824.7" y2="824.7" stroke="#333" stroke-width="1.2"/>
<text x="867" y="828.7" font-size="14" text-anchor="end" fill="#000" textLength="31" lengthAdjust="spacingAndGlyphs">20%</text>
<line x1="876.7" x2="881.7" y1="801.1" y2="801.1" stroke="#333" stroke-width="1.2"/>
<text x="867" y="805.1" font-size="14" text-anchor="end" fill="#000" textLength="31" lengthAdjust="spacingAndGlyphs">30%</text>
<line x1="876.7" x2="881.7" y1="777.5" y2="777.5" stroke="#333" stroke-width="1.2"/>
<text x="867" y="781.5" font-size="14" text-anchor="end" fill="#000" textLength="31" lengthAdjust="spacingAndGlyphs">40%</text>
<line x1="876.7" x2="881.7" y1="753.9" y2="753.9" stroke="#333" stroke-width="1.2"/>
<text x="867" y="757.9" font-size="14" text-anchor="end" fill="#000" textLength="31" lengthAdjust="spacingAndGlyphs">50%</text>
<line x1="876.7" x2="881.7" y1="730.2" y2="730.2" stroke="#333" stroke-width="1.2"/>
<text x="867" y="734.2" font-size="14" text-anchor="end" fill="#000" textLength="31" lengthAdjust="spacingAndGlyphs">60%</text>
<line x1="876.7" x2="881.7" y1="706.6" y2="706.6" stroke="#333" stroke-width="1.2"/>
<text x="867" y="710.6" font-size="14" text-anchor="end" fill="#000" textLength="31" lengthAdjust="spacingAndGlyphs">70%</text>
<line x1="876.7" x2="881.7" y1="683.0" y2="683.0" stroke="#333" stroke-width="1.2"/>
<text x="867" y="687.0" font-size="14" text-anchor="end" fill="#000" textLength="31" lengthAdjust="spacingAndGlyphs">80%</text>
<line x1="876.7" x2="881.7" y1="659.3" y2="659.3" stroke="#333" stroke-width="1.2"/>
<text x="867" y="663.3" font-size="14" text-anchor="end" fill="#000" textLength="31" lengthAdjust="spacingAndGlyphs">90%</text>
<line x1="876.7" x2="881.7" y1="635.7" y2="635.7" stroke="#333" stroke-width="1.2"/>
<text x="867" y="639.7" font-size="14" text-anchor="end" fill="#000" textLength="39" lengthAdjust="spacingAndGlyphs">100%</text>
<line x1="881.7" x2="881.7" y1="872.0" y2="877.0" stroke="#333" stroke-width="1.2"/>
<line x1="1005.8" x2="1005.8" y1="872.0" y2="877.0" stroke="#333" stroke-width="1.2"/>
<line x1="1129.8" x2="1129.8" y1="872.0" y2="877.0" stroke="#333" stroke-width="1.2"/>
<line x1="1253.9" x2="1253.9" y1="872.0" y2="877.0" stroke="#333" stroke-width="1.2"/>
<line x1="1378.0" x2="1378.0" y1="872.0" y2="877.0" stroke="#333" stroke-width="1.2"/>
<rect x="870.8" y="573.3" width="11.0" height="10.0" fill="#3070c4"/>
<text x="886.0" y="583.2" font-size="13.5" fill="#222" textLength="81.8" lengthAdjust="spacing">柴油机油泵</text>
<rect x="989.2" y="573.7" width="10.2" height="9.2" fill="#ed7d31"/>
<text x="1005.6" y="583.2" font-size="13.5" fill="#222" textLength="81.1" lengthAdjust="spacing">车用零部件</text>
<rect x="1108.4" y="573.8" width="10.0" height="9.0" fill="#a5a5a5"/>
<text x="1123.7" y="583.2" font-size="13.5" fill="#222" textLength="97.8" lengthAdjust="spacing">汽油机机油泵</text>
<rect x="1227.3" y="573.9" width="9.8" height="8.8" fill="#ffc000"/>
<text x="1242.7" y="583.2" font-size="13.5" fill="#222" textLength="30.8" lengthAdjust="spacing">电机</text>
<rect x="872.0" y="597.0" width="8.4" height="7.4" fill="#4198af"/>
<text x="885.2" y="605.6" font-size="13.5" fill="#222" textLength="48.6" lengthAdjust="spacing">输油泵</text>
<rect x="991.7" y="597.6" width="7.2" height="6.2" fill="#db843d"/>
<text x="1004.3" y="605.6" font-size="13.5" fill="#222" textLength="65.5" lengthAdjust="spacing">其他配件</text>
<rect x="1108.9" y="596.8" width="8.8" height="7.8" fill="#93a9cf"/>
<text x="1123.7" y="605.6" font-size="13.5" fill="#222" textLength="64.8" lengthAdjust="spacing">其他业务</text>
</svg>
<svg width="1588" height="2245" style="left:0;top:0" viewBox="0 0 1588 2245">
<path d="M544.3 1417.3V1757.1H1189.6" fill="none" stroke="#404040" stroke-width="1.3"/>
<line x1="538.3" x2="544.3" y1="1757.1" y2="1757.1" stroke="#404040" stroke-width="1.3"/>
<text x="529.5" y="1760.9" font-size="15.5" text-anchor="end" fill="#333" textLength="41.0" lengthAdjust="spacingAndGlyphs">0.00%</text>
<line x1="538.3" x2="544.3" y1="1700.5" y2="1700.5" stroke="#404040" stroke-width="1.3"/>
<text x="529.5" y="1704.3" font-size="15.5" text-anchor="end" fill="#333" textLength="41.0" lengthAdjust="spacingAndGlyphs">5.00%</text>
<line x1="538.3" x2="544.3" y1="1643.8" y2="1643.8" stroke="#404040" stroke-width="1.3"/>
<text x="529.5" y="1647.6" font-size="15.5" text-anchor="end" fill="#333" textLength="48.5" lengthAdjust="spacingAndGlyphs">10.00%</text>
<line x1="538.3" x2="544.3" y1="1587.2" y2="1587.2" stroke="#404040" stroke-width="1.3"/>
<text x="529.5" y="1591.0" font-size="15.5" text-anchor="end" fill="#333" textLength="48.5" lengthAdjust="spacingAndGlyphs">15.00%</text>
<line x1="538.3" x2="544.3" y1="1530.6" y2="1530.6" stroke="#404040" stroke-width="1.3"/>
<text x="529.5" y="1534.4" font-size="15.5" text-anchor="end" fill="#333" textLength="48.5" lengthAdjust="spacingAndGlyphs">20.00%</text>
<line x1="538.3" x2="544.3" y1="1473.9" y2="1473.9" stroke="#404040" stroke-width="1.3"/>
<text x="529.5" y="1477.7" font-size="15.5" text-anchor="end" fill="#333" textLength="48.5" lengthAdjust="spacingAndGlyphs">25.00%</text>
<line x1="538.3" x2="544.3" y1="1417.3" y2="1417.3" stroke="#404040" stroke-width="1.3"/>
<text x="529.5" y="1421.1" font-size="15.5" text-anchor="end" fill="#333" textLength="48.5" lengthAdjust="spacingAndGlyphs">30.00%</text>
<line x1="544.3" x2="544.3" y1="1757.1" y2="1763.1" stroke="#404040" stroke-width="1.3"/>
<line x1="651.8" x2="651.8" y1="1757.1" y2="1763.1" stroke="#404040" stroke-width="1.3"/>
<line x1="759.4" x2="759.4" y1="1757.1" y2="1763.1" stroke="#404040" stroke-width="1.3"/>
<line x1="866.9" x2="866.9" y1="1757.1" y2="1763.1" stroke="#404040" stroke-width="1.3"/>
<line x1="974.5" x2="974.5" y1="1757.1" y2="1763.1" stroke="#404040" stroke-width="1.3"/>
<line x1="1082.0" x2="1082.0" y1="1757.1" y2="1763.1" stroke="#404040" stroke-width="1.3"/>
<line x1="1189.6" x2="1189.6" y1="1757.1" y2="1763.1" stroke="#404040" stroke-width="1.3"/>
<text x="598.1" y="1780.8" font-size="15.5" text-anchor="middle" fill="#333">2020</text>
<text x="705.6" y="1780.8" font-size="15.5" text-anchor="middle" fill="#333">2021</text>
<text x="813.2" y="1780.8" font-size="15.5" text-anchor="middle" fill="#333">2022</text>
<text x="920.7" y="1780.8" font-size="15.5" text-anchor="middle" fill="#333">2023</text>
<text x="1028.3" y="1780.8" font-size="15.5" text-anchor="middle" fill="#333">2024</text>
<text x="1135.8" y="1780.8" font-size="15.5" text-anchor="middle" fill="#333" textLength="77" lengthAdjust="spacingAndGlyphs">2025Q1-Q3</text>
<polyline points="598.1,1442.2 705.6,1472.8 813.2,1473.3 920.7,1459.7 1028.3,1487.5 1135.8,1492.5" fill="none" stroke="#2f6fce" stroke-width="3" stroke-linejoin="round" stroke-linecap="round"/>
<polyline points="598.1,1621.6 705.6,1625.7 813.2,1635.9 920.7,1629.8 1028.3,1662.5 1135.8,1668.3" fill="none" stroke="#ed7d31" stroke-width="3" stroke-linejoin="round" stroke-linecap="round"/>
<line x1="740" x2="780.5" y1="1814.5" y2="1814.5" stroke="#2f6fce" stroke-width="3" stroke-linecap="round"/>
<text x="787.6" y="1819.5" font-size="14" fill="#222" textLength="46.6" lengthAdjust="spacing">毛利率</text>
<line x1="852.5" x2="893.5" y1="1814.5" y2="1814.5" stroke="#ed7d31" stroke-width="3" stroke-linecap="round"/>
<text x="899.2" y="1819.5" font-size="14" fill="#222" textLength="48" lengthAdjust="spacing">净利率</text>
</svg>
<div class="abs" style="left:91px;top:2041.3px;height:40px;line-height:40px;font-size:24px;color:#004ea2;">谨请参阅尾页重要声明及财通证券股票和行业评级标准</div>
<div class="abs" style="left:1387.5px;width:40px;text-align:center;top:2039.8px;height:40px;line-height:40px;font-size:27.5px;color:#004ea2;">8</div>
</body></html>
